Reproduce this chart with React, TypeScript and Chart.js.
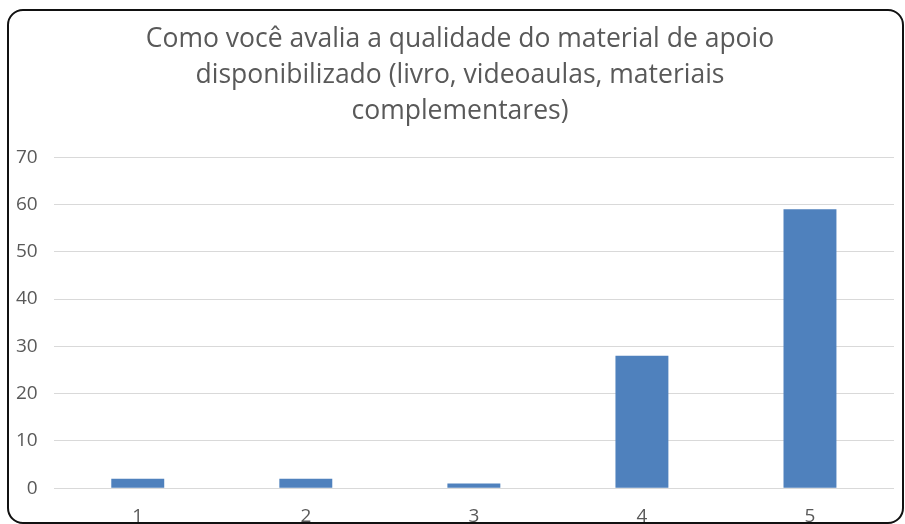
import React, { useEffect, useRef } from "react";
import { Chart, registerables } from "chart.js";

Chart.register(...registerables);

const titleLines = [
  "Como você avalia a qualidade do material de apoio",
  "disponibilizado (livro, videoaulas, materiais",
  "complementares)",
];
const categories = ["1", "2", "3", "4", "5"];
const values = [2, 2, 1, 28, 59];
const yMax = 70;
const yStep = 10;

const FONT = '"Open Sans", "Liberation Sans", sans-serif';
const TEXT = "#595959";

const centerTitle = {
  id: "centerTitle",
  afterLayout(chart: any) {
    const tb = chart.titleBlock;
    if (tb) {
      tb.left = 15;
      tb.right = chart.width;
    }
  },
};

export default function App() {
  const ref = useRef<HTMLCanvasElement | null>(null);

  useEffect(() => {
    document.body.style.margin = "0";
    document.body.style.overflow = "hidden";
    const chart = new Chart(ref.current as HTMLCanvasElement, {
      type: "bar",
      data: {
        labels: categories,
        datasets: [
          {
            data: values,
            backgroundColor: "#4F81BD",
            borderWidth: 0,
            barPercentage: 0.315,
            categoryPercentage: 1,
          },
        ],
      },
      options: {
        animation: false,
        responsive: false,
        maintainAspectRatio: false,
        layout: { padding: { left: 0, right: 11, top: 12, bottom: -13 } },
        plugins: {
          legend: { display: false },
          tooltip: { enabled: false },
          title: {
            display: true,
            text: titleLines,
            color: TEXT,
            font: { family: FONT, size: 26.5, weight: "normal", lineHeight: 1.36 },
            padding: { top: 9, bottom: 28 },
          },
        },
        scales: {
          x: {
            grid: { display: false },
            border: { display: false },
            ticks: {
              color: TEXT,
              font: { family: FONT, size: 19 },
              padding: 9,
            },
          },
          y: {
            min: 0,
            max: yMax,
            border: { display: false },
            grid: { color: "#D9D9D9", lineWidth: 1, drawTicks: false },
            ticks: {
              stepSize: yStep,
              color: TEXT,
              font: { family: FONT, size: 19 },
              padding: 16,
            },
          },
        },
      },
      plugins: [centerTitle],
    });
    return () => chart.destroy();
  }, []);

  return (
    <div style={{ position: "relative", width: 905, height: 524, overflow: "hidden", background: "#fff" }}>
      <canvas ref={ref} width={905} height={524} style={{ position: "absolute", left: 0, top: 0 }} />
      <div
        style={{
          position: "absolute",
          left: 7,
          top: 9,
          width: 897,
          height: 515,
          border: "2px solid #111",
          borderRadius: 16,
          boxSizing: "border-box",
          pointerEvents: "none",
        }}
      />
    </div>
  );
}
